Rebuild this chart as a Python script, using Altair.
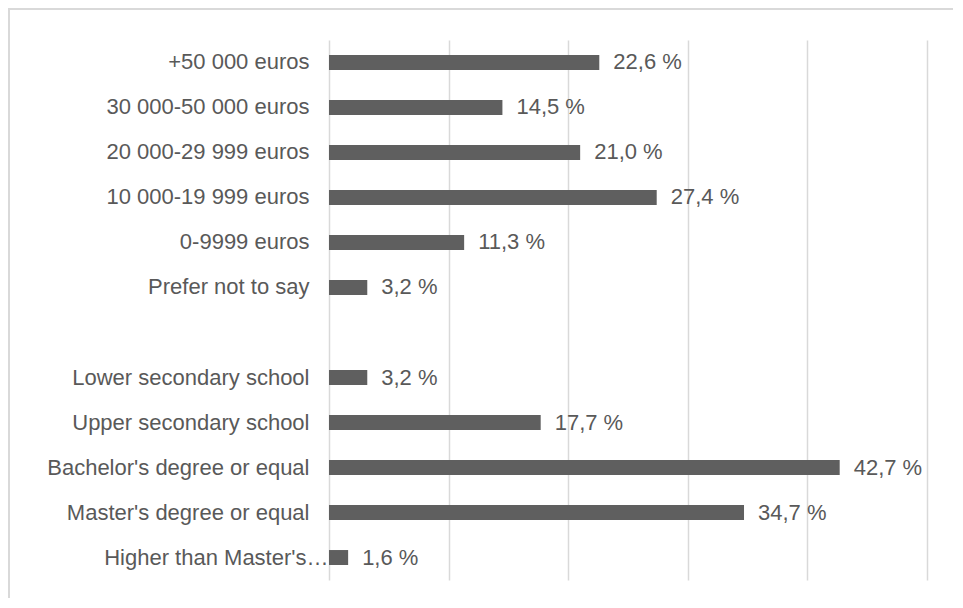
import altair as alt
import pandas as pd

categories = [
    "+50 000 euros",
    "30 000-50 000 euros",
    "20 000-29 999 euros",
    "10 000-19 999 euros",
    "0-9999 euros",
    "Prefer not to say",
    "Lower secondary school",
    "Upper secondary school",
    "Bachelor's degree or equal",
    "Master's degree or equal",
    "Higher than Master's…",
]
values = [22.6, 14.5, 21.0, 27.4, 11.3, 3.2, 3.2, 17.7, 42.7, 34.7, 1.6]
row_order = categories[:6] + [" "] + categories[6:]
grid_values = [0, 10, 20, 30, 40, 50]

labels = [f"{v:.1f}".replace(".", ",") + " %" for v in values]
df = pd.DataFrame({"cat": categories, "val": values, "label": labels})

FONT = "Liberation Sans"
TXT = "#595959"
FS = 22

y_enc = alt.Y(
    "cat:N",
    sort=row_order,
    scale=alt.Scale(domain=row_order, paddingInner=0.667, paddingOuter=0.333),
    axis=alt.Axis(
        title=None,
        domain=False,
        ticks=False,
        grid=False,
        labelFont=FONT,
        labelFontSize=FS,
        labelColor=TXT,
        labelLimit=400,
        labelPadding={"condition": {"test": "datum.value === 'Higher than Master\\'s…'", "value": 1}, "value": 20},
    ),
)
x_enc = alt.X(
    "val:Q",
    scale=alt.Scale(domain=[0, 50], nice=False),
    axis=alt.Axis(
        title=None,
        values=grid_values,
        labels=False,
        ticks=False,
        domain=False,
        grid=True,
        gridColor="#d9d9d9",
        gridWidth=1.5,
    ),
)

base = alt.Chart(df)
bars = base.mark_bar(color="#5f5f5f").encode(x=x_enc, y=y_enc)
text = base.mark_text(align="left", baseline="middle", dx=14, font=FONT, fontSize=FS, color=TXT).encode(
    x="val:Q", y=alt.Y("cat:N", sort=row_order), text="label:N"
)

frame = pd.DataFrame({"a": [0]})
left_border = alt.Chart(frame).mark_rule(color="#d9d9d9", strokeWidth=2).encode(
    x=alt.value(-320), y=alt.value(-31), y2=alt.value(565)
)
top_border = alt.Chart(frame).mark_rule(color="#d9d9d9", strokeWidth=2).encode(
    x=alt.value(-321), x2=alt.value(630), y=alt.value(-31)
)

chart = (
    alt.layer(bars, text, left_border, top_border)
    .properties(
        width=598,
        height=540,
        autosize=alt.AutoSizeParams(type="none"),
        padding={"left": 321, "top": 32, "right": 26, "bottom": 18},
    )
    .configure(background="white")
    .configure_view(stroke="transparent", strokeWidth=0)
)

chart.save("out.html", embed_options={"renderer": "svg", "actions": False})
